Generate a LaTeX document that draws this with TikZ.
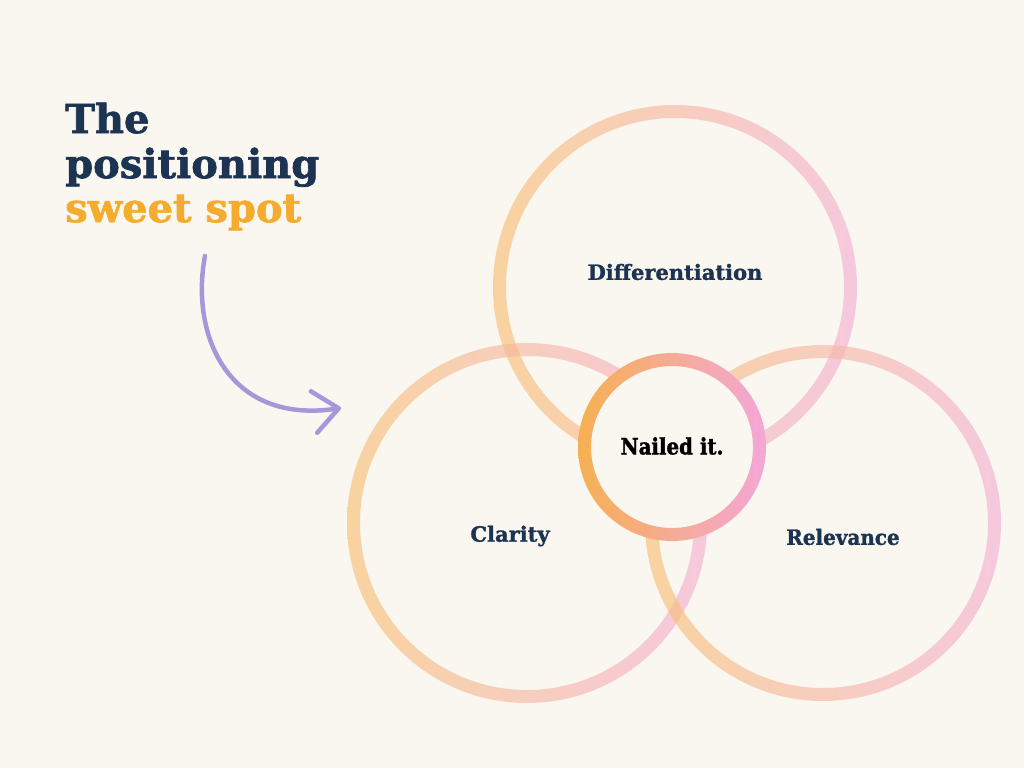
\documentclass[tikz,border=0pt]{standalone}
\usepackage{fontspec}
\usetikzlibrary{arrows.meta}
\newfontfamily\titlefont[FakeBold=1.6]{DejaVu Serif}
\newfontfamily\labfont[FakeBold=1.3]{DejaVu Serif}
\newfontfamily\labcondfont[FakeBold=1.3,FakeStretch=0.95]{DejaVu Serif}
\newfontfamily\nailfont[FakeBold=1.6,FakeStretch=0.88]{DejaVu Serif}
\definecolor{bg}{HTML}{FAF6F0}
\definecolor{navy}{HTML}{1C3452}
\definecolor{gold}{HTML}{F5AC2E}
\definecolor{lilac}{HTML}{A697DA}
\definecolor{ringorange}{HTML}{F7C074}
\definecolor{ringpink}{HTML}{F5B0D4}
\definecolor{smallorange}{HTML}{F6B052}
\definecolor{smallpink}{HTML}{F4A6D8}
\tikzset{
  titletext/.style={anchor=base west, inner sep=0pt, font=\titlefont\bfseries\fontsize{40}{45}\selectfont},
  labeltext/.style={inner sep=0pt, text=navy, font=\labfont\bfseries\fontsize{21}{25}\selectfont},
  labelcond/.style={inner sep=0pt, text=navy, font=\labcondfont\bfseries\fontsize{21}{25}\selectfont},
  nailtext/.style={inner sep=0pt, text=black, font=\nailfont\bfseries\fontsize{22.5}{26}\selectfont},
  ring/.style={left color=ringorange, right color=ringpink, even odd rule},
  arrowline/.style={draw=lilac, line width=4.5pt, line cap=round,
    -{Straight Barb[length=25pt, width=42pt, line width=4.5pt, round]}}
}
\begin{document}
\begin{tikzpicture}[x=1pt,y=-1pt]
\fill[bg] (0,0) rectangle (1024,768);
\useasboundingbox (0,0) rectangle (1024,768);

% title
\node[titletext, text=navy] (t1) at (65,133) {The};
\node[titletext, text=navy] (t2) at (65,178) {positioning};
\node[titletext, text=gold] (t3) at (65,222) {sweet spot};

% circle centres
\coordinate (ctop) at (675,287);
\coordinate (cleft) at (527,523);
\coordinate (cright) at (823,523);
\coordinate (csmall) at (672,447);

% big rings
\begin{scope}[transparency group, opacity=0.65]
\shade[ring] (ctop) circle[radius=182] (ctop) circle[radius=169];
\end{scope}
\begin{scope}[transparency group, opacity=0.65]
\shade[ring] (cleft) circle[radius=180] (cleft) circle[radius=167];
\end{scope}
\begin{scope}[transparency group, opacity=0.65]
\shade[ring] (cright) circle[radius=178] (cright) circle[radius=165];
\end{scope}

% small ring
\fill[bg] (csmall) circle[radius=88];
\shade[left color=smallorange, right color=smallpink, even odd rule]
  (csmall) circle[radius=94] (csmall) circle[radius=81];

% labels
\node[labeltext] (diff) at (675,272) {Differentiation};
\node[labeltext] (clar) at (510,536) {Clarity};
\node[labelcond] (relv) at (843,537) {Relevance};
\node[nailtext] (nail) at (672,446) {Nailed it.};

% arrow
\coordinate (astart) at (205,256);
\coordinate (aend) at (341,408);
\draw[arrowline] (astart) .. controls (190,335) and (228,425) .. (aend);
\end{tikzpicture}
\end{document}
